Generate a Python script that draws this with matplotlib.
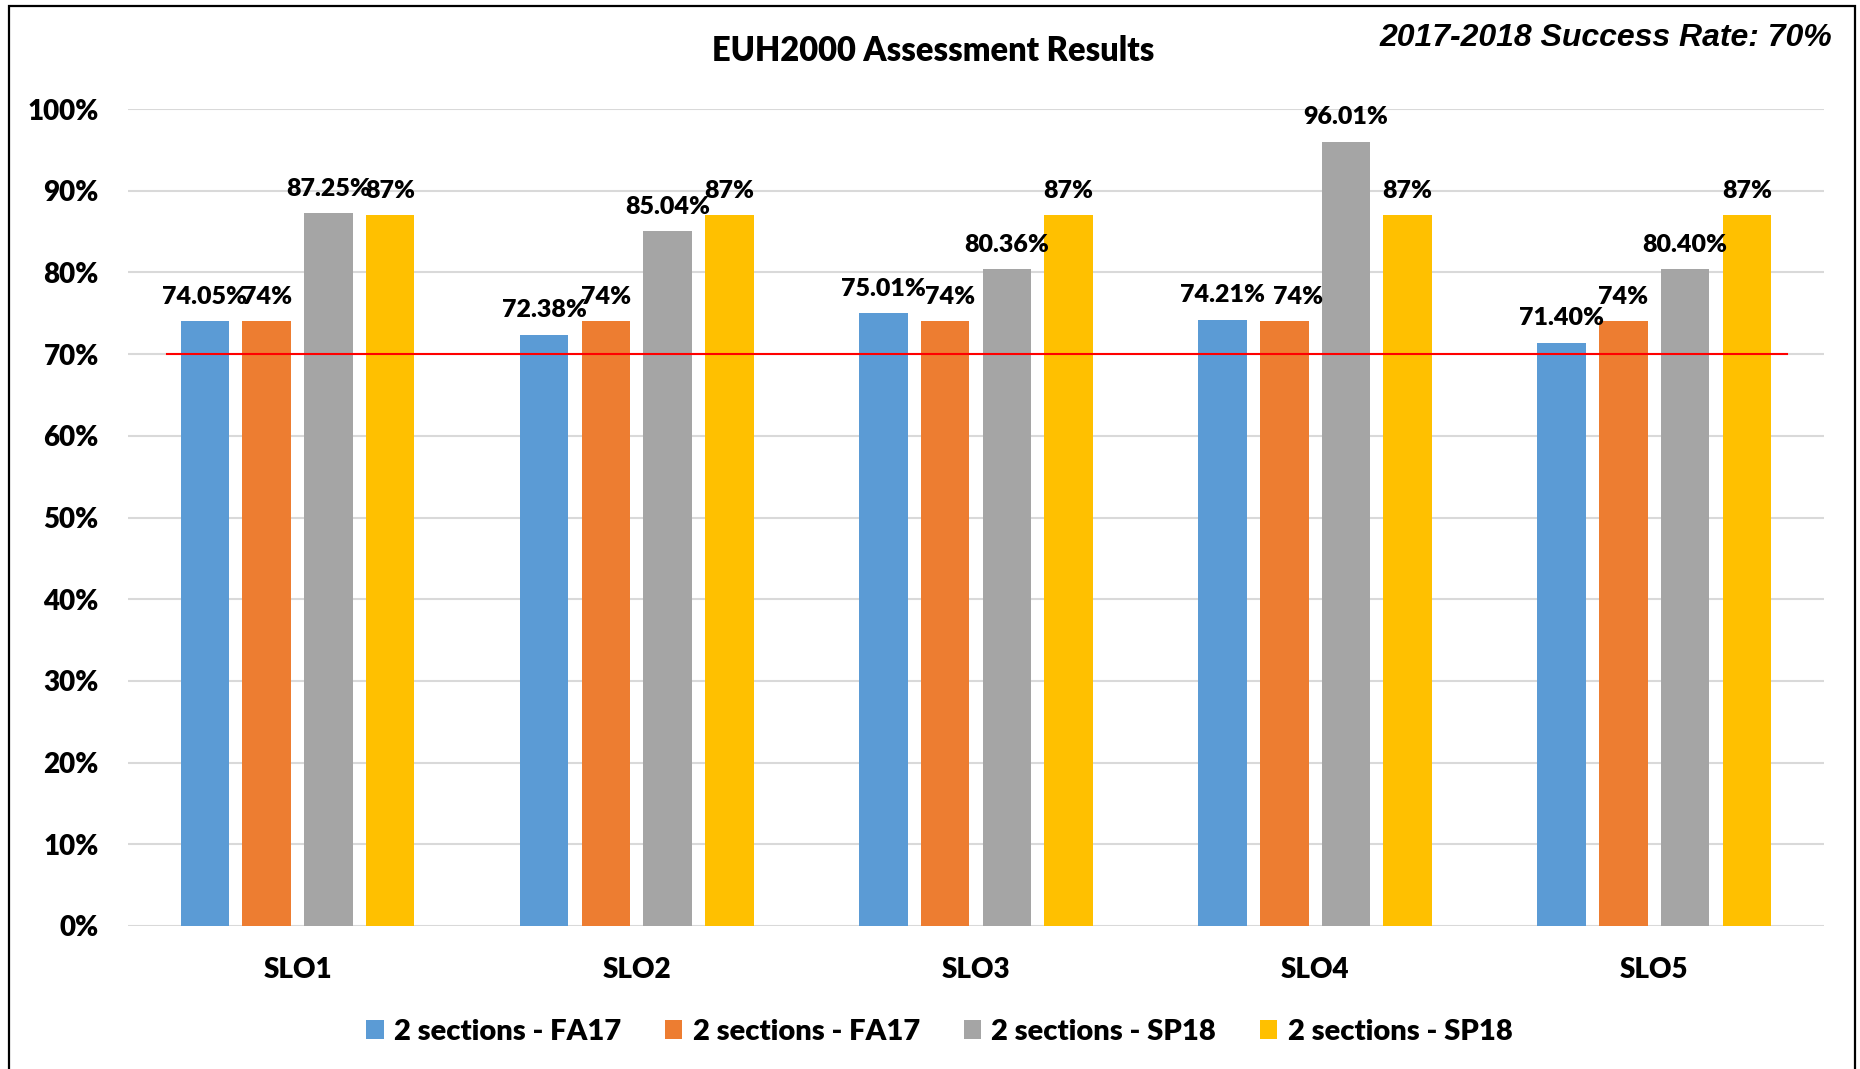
import matplotlib.pyplot as plt
import numpy as np
from matplotlib.patches import Rectangle
from matplotlib.ticker import PercentFormatter

# chart data
categories = ['SLO1', 'SLO2', 'SLO3', 'SLO4', 'SLO5']
series_names = ['2 sections - FA17', '2 sections - FA17', '2 sections - SP18', '2 sections - SP18']
fa17_a = [74.05, 72.38, 75.01, 74.21, 71.40]
fa17_b = [74, 74, 74, 74, 74]
sp18_a = [87.25, 85.04, 80.36, 96.01, 80.40]
sp18_b = [87, 87, 87, 87, 87]
label_fmt = ['{:.2f}%', '{:.0f}%', '{:.2f}%', '{:.0f}%']
success_rate = 70
colors = ['#5B9BD5', '#ED7D31', '#A5A5A5', '#FFC000']

# a couple of labels were nudged sideways in the original (points)
label_dx = {(1, 2): 3.5, (1, 3): 10}

plt.rcParams['font.family'] = ['Lato', 'DejaVu Sans']
W = 'heavy'

fig = plt.figure(figsize=(18.6, 10.69), dpi=100)
ax = fig.add_axes([0.0688, 0.1338, 0.9118, 0.7642])

x = np.arange(len(categories))
step = 0.182
width = 0.143
all_series = [fa17_a, fa17_b, sp18_a, sp18_b]
for i, vals in enumerate(all_series):
    pos = x + (i - 1.5) * step
    ax.bar(pos, vals, width, color=colors[i], label=series_names[i], zorder=2)
    for j, (px, v) in enumerate(zip(pos, vals)):
        ax.annotate(label_fmt[i].format(v), (px, v), xytext=(label_dx.get((i, j), 0), 12.5),
                    textcoords='offset points', ha='center', va='baseline',
                    fontsize=18, fontweight=W, annotation_clip=False)

# target line
ax.axhline(success_rate, xmin=0.023, xmax=0.978, color='#FF0000', lw=1.5, zorder=3)

ax.set_xlim(-0.5, len(categories) - 0.5)
ax.set_ylim(0, 100)
ax.set_yticks(np.arange(0, 101, 10))
ax.yaxis.set_major_formatter(PercentFormatter(decimals=0))
ax.set_xticks(x)
ax.set_xticklabels(categories)
ax.tick_params(axis='y', length=0, pad=21, labelsize=20)
ax.tick_params(axis='x', length=0, pad=22, labelsize=20)
for lbl in ax.get_xticklabels() + ax.get_yticklabels():
    lbl.set_fontweight(W)
ax.grid(axis='y', color='#D9D9D9', lw=1.5, zorder=0)
ax.set_axisbelow(True)
for s in ax.spines.values():
    s.set_visible(False)

fig.text(0.5016, 0.952, 'EUH2000 Assessment Results', ha='center', va='center',
         fontsize=23.5, fontweight=W)
fig.text(0.985, 0.9645, '2017-2018 Success Rate: 70%', ha='right', va='center',
         fontsize=23, fontweight='bold', style='italic', family='Liberation Sans')

fig.legend(loc='center', bbox_to_anchor=(0.505, 0.035), ncol=4, frameon=False,
           prop={'size': 21, 'weight': W}, handlelength=0.6, handleheight=0.6,
           handletextpad=0.35, columnspacing=1.5)

# outer border
fig.patches.append(Rectangle((9 / 1860, -0.02), 1846 / 1860, 1.02 - 6 / 1069,
                             transform=fig.transFigure, fill=False, ec='black', lw=1.6))

fig.savefig('out.png', dpi=100)
